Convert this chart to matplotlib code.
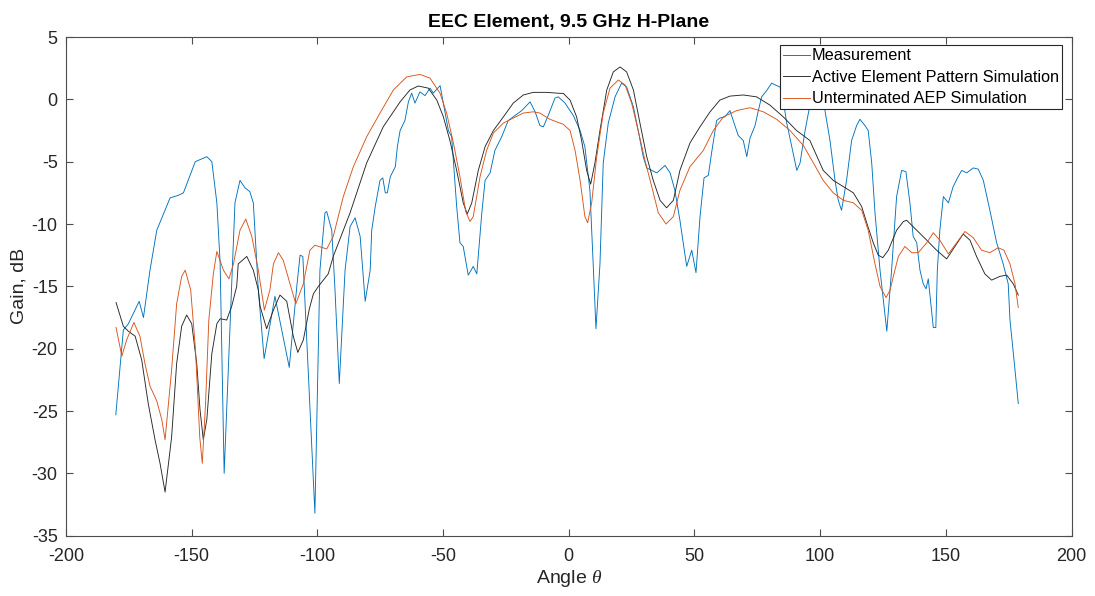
import matplotlib
matplotlib.use("Agg")
import matplotlib.pyplot as plt

plt.rcParams['font.family'] = ['Liberation Sans', 'DejaVu Sans']
plt.rcParams['mathtext.fontset'] = 'custom'
plt.rcParams['mathtext.it'] = 'Liberation Serif:italic'
plt.rcParams['axes.unicode_minus'] = False

# Measured H-plane pattern
meas_angle = [-180.2, -177.2, -175.2, -170.9, -169.2, -166.6, -163.9, -158.6, -155.3, -153.3,
              -148.6, -144.0, -142.0, -140.0, -138.7, -137.1, -132.8, -130.8, -128.8, -126.9,
              -125.5, -123.5, -121.2, -116.9, -111.2, -108.2, -106.9, -105.8, -101.0, -99.0,
              -97.0, -96.3, -94.3, -93.0, -91.3, -89.0, -87.0, -85.0, -83.0, -81.0,
              -79.0, -78.4, -77.0, -75.1, -74.0, -73.0, -72.2, -71.0, -69.0, -68.2,
              -67.1, -65.2, -63.8, -62.5, -61.2, -59.2, -57.2, -55.2, -53.9, -51.2,
              -49.9, -47.9, -46.6, -44.6, -43.3, -42.0, -40.0, -38.0, -36.6, -34.6,
              -33.3, -31.3, -29.4, -26.7, -24.1, -21.4, -18.7, -15.4, -13.4, -11.5,
              -10.1, -8.2, -5.5, -4.2, -1.5, 1.8, 4.5, 6.4, 8.4, 9.7,
              10.8, 12.4, 13.7, 15.7, 18.4, 21.0, 23.0, 25.7, 27.6, 29.6,
              31.0, 33.0, 35.0, 38.3, 40.3, 42.2, 44.2, 45.5, 46.9, 48.9,
              50.6, 52.2, 53.8, 55.5, 56.8, 58.2, 58.8, 60.1, 62.1, 64.1,
              65.4, 67.4, 69.4, 70.8, 72.1, 74.1, 75.4, 76.7, 78.7, 80.7,
              82.7, 84.0, 85.3, 86.7, 88.7, 90.7, 92.0, 94.0, 95.3, 97.3,
              99.5, 101.9, 103.9, 105.9, 107.2, 108.5, 110.5, 112.5, 114.5, 115.8,
              117.8, 119.1, 120.5, 121.8, 123.8, 126.5, 128.4, 130.4, 132.4, 134.1,
              135.7, 137.0, 138.4, 139.7, 141.0, 142.1, 143.0, 145.0, 146.0, 146.6,
              147.6, 149.0, 151.0, 152.9, 154.9, 156.3, 158.3, 160.9, 162.9, 164.9,
              167.5, 170.2, 172.8, 174.8, 175.5, 177.5, 178.8]
meas_gain = [-25.3, -18.5, -18.0, -16.2, -17.5, -13.7, -10.5, -7.9, -7.7, -7.5,
             -5.0, -4.6, -5.0, -8.3, -13.1, -30.0, -8.3, -6.5, -7.1, -7.4,
             -8.3, -15.3, -20.8, -15.8, -21.5, -15.0, -12.5, -12.6, -33.2, -13.7,
             -9.1, -9.0, -10.5, -15.3, -22.8, -13.7, -10.2, -9.5, -11.0, -16.2,
             -13.7, -10.5, -8.6, -6.5, -6.3, -7.5, -7.5, -6.2, -5.4, -3.8,
             -2.5, -1.7, -0.2, 0.5, -0.3, 0.6, 0.3, 0.9, 0.5, 1.1,
             -0.3, -2.5, -3.0, -8.6, -11.5, -11.8, -14.1, -13.4, -14.0, -9.1,
             -6.5, -5.9, -4.1, -3.0, -1.7, -1.3, -0.9, -0.2, -1.0, -2.1,
             -2.2, -1.3, 0.1, 0.2, -0.3, -1.3, -2.5, -3.8, -7.3, -13.2,
             -18.4, -13.2, -5.1, -1.9, 0.2, 1.3, 1.0, -0.6, -2.5, -4.6,
             -5.5, -5.7, -5.9, -5.3, -5.9, -7.3, -9.7, -11.5, -13.4, -12.1,
             -13.9, -9.4, -6.3, -6.1, -4.3, -2.5, -1.7, -1.5, -1.4, -0.9,
             -1.7, -2.9, -3.3, -4.6, -3.1, -2.1, -0.9, 0.2, 0.7, 1.3,
             1.1, 1.0, -0.1, -1.9, -3.8, -5.7, -5.1, -2.5, -1.1, 0.8,
             1.3, -0.9, -3.3, -6.5, -8.1, -8.9, -6.5, -3.3, -2.1, -1.6,
             -2.1, -2.5, -5.1, -9.1, -13.7, -18.6, -13.7, -7.8, -5.7, -5.8,
             -8.3, -11.0, -11.5, -13.7, -14.8, -15.2, -14.4, -18.3, -18.3, -13.7,
             -10.5, -7.8, -8.3, -7.0, -6.2, -5.7, -5.9, -5.5, -5.6, -6.5,
             -8.9, -11.5, -13.2, -14.8, -17.7, -21.7, -24.4]

# Active element pattern simulation
aep_angle = [-180.1, -177.2, -175.2, -172.5, -169.9, -167.3, -164.6, -162.6, -160.6, -158.0,
             -156.0, -154.0, -152.0, -150.0, -148.0, -146.7, -145.4, -144.0, -142.0, -140.0,
             -138.7, -136.1, -134.1, -132.1, -131.5, -128.1, -125.5, -123.5, -122.8, -120.2,
             -117.5, -114.9, -112.2, -109.6, -107.8, -105.6, -103.2, -101.6, -99.6, -95.7,
             -93.7, -87.0, -80.4, -73.8, -67.1, -63.2, -59.9, -55.9, -52.5, -49.9,
             -47.3, -44.6, -42.0, -40.4, -38.6, -36.0, -33.3, -30.0, -26.0, -22.1,
             -18.1, -14.1, -8.8, -3.5, -2.2, 0.5, 3.1, 5.1, 7.1, 8.7,
             10.4, 12.4, 15.1, 17.7, 20.4, 23.0, 25.7, 28.3, 31.0, 33.6,
             36.3, 38.9, 41.6, 44.2, 48.2, 52.2, 56.2, 60.1, 64.1, 69.4,
             74.7, 80.0, 85.3, 90.6, 95.9, 101.2, 105.2, 109.2, 113.2, 116.5,
             118.5, 121.1, 123.1, 124.9, 127.1, 130.4, 133.1, 134.4, 138.4, 142.4,
             146.3, 150.3, 153.6, 156.9, 159.6, 162.2, 165.5, 168.2, 171.5, 174.2,
             176.8, 178.8]
aep_gain = [-16.3, -18.2, -18.6, -19.0, -20.9, -24.4, -27.3, -29.2, -31.5, -27.1,
            -21.2, -18.2, -17.3, -18.0, -21.2, -24.9, -27.3, -25.7, -20.4, -18.0,
            -17.6, -17.7, -16.6, -15.0, -13.2, -12.6, -13.7, -15.3, -16.6, -18.4,
            -16.9, -15.7, -16.2, -19.0, -20.3, -19.3, -16.8, -15.6, -15.0, -14.0,
            -12.6, -9.1, -5.1, -2.2, -0.2, 0.75, 1.07, 0.9, -0.06, -1.4,
            -3.3, -5.7, -8.3, -9.2, -8.3, -5.7, -3.8, -2.5, -1.4, -0.3,
            0.35, 0.56, 0.56, 0.48, 0.48, -0.06, -1.4, -3.3, -5.7, -6.8,
            -5.1, -2.5, 0.75, 2.2, 2.6, 2.2, 0.75, -1.9, -4.6, -6.5,
            -8.1, -8.7, -8.1, -5.7, -3.5, -2.2, -1.0, -0.06, 0.26, 0.35,
            0.2, -0.46, -1.4, -2.5, -3.3, -5.7, -6.5, -7.0, -7.5, -8.6,
            -9.9, -11.5, -12.5, -12.7, -12.1, -10.5, -9.8, -9.7, -10.5, -11.3,
            -12.1, -12.8, -11.8, -10.8, -11.3, -12.6, -14.0, -14.5, -14.2, -14.1,
            -14.8, -15.7]

# Unterminated AEP simulation
unt_angle = [-180.1, -177.8, -175.9, -173.0, -170.6, -168.6, -166.6, -163.9, -161.9, -160.6,
             -158.0, -156.0, -154.0, -152.6, -150.4, -148.5, -146.8, -145.8, -144.5, -143.2,
             -141.4, -140.0, -137.4, -135.2, -133.4, -130.8, -128.5, -126.1, -123.5, -121.1,
             -118.9, -117.5, -115.5, -113.6, -110.9, -108.6, -105.6, -103.0, -101.0, -96.3,
             -93.7, -89.7, -85.7, -80.4, -75.1, -69.8, -64.5, -59.2, -55.2, -51.2,
             -48.6, -45.9, -43.3, -41.0, -39.3, -38.0, -35.3, -32.7, -30.0, -26.0,
             -22.1, -18.1, -14.1, -11.5, -7.5, -2.2, 0.5, 2.5, 4.5, 6.4,
             7.5, 9.1, 11.1, 13.7, 16.4, 19.7, 22.4, 25.0, 27.6, 30.3,
             33.0, 35.6, 38.7, 41.6, 44.2, 48.2, 53.5, 57.5, 61.5, 66.8,
             72.1, 77.4, 82.7, 88.0, 93.3, 97.3, 101.2, 105.2, 109.2, 113.2,
             116.5, 119.1, 121.8, 123.8, 125.1, 126.2, 127.8, 129.1, 131.1, 133.7,
             136.4, 139.0, 142.4, 145.0, 147.6, 151.0, 154.3, 157.6, 160.9, 164.2,
             167.5, 170.8, 173.1, 175.5, 177.5, 178.8]
unt_gain = [-18.3, -20.6, -19.3, -17.9, -19.0, -21.2, -23.0, -24.2, -25.7, -27.3,
            -21.7, -16.4, -14.2, -13.7, -15.3, -20.1, -27.1, -29.2, -24.4, -17.7,
            -14.0, -12.2, -13.7, -14.4, -13.2, -10.5, -9.6, -11.0, -13.7, -16.9,
            -15.3, -13.2, -12.3, -12.9, -14.8, -16.4, -14.8, -12.1, -11.7, -12.0,
            -11.0, -7.8, -5.4, -3.0, -1.1, 0.75, 1.8, 2.0, 1.7, 0.48,
            -1.1, -3.5, -6.2, -9.0, -9.8, -9.4, -6.2, -4.1, -2.7, -1.9,
            -1.5, -1.1, -1.0, -1.1, -1.6, -2.0, -2.5, -4.1, -6.5, -9.4,
            -9.9, -8.3, -4.6, -1.1, 0.9, 1.55, 1.15, -0.3, -2.5, -4.9,
            -7.0, -9.1, -10.0, -9.4, -7.3, -5.4, -4.1, -2.5, -1.4, -0.9,
            -0.67, -1.0, -1.6, -2.5, -3.7, -5.1, -6.5, -7.5, -8.1, -8.3,
            -8.9, -10.5, -13.2, -15.0, -15.5, -15.9, -15.3, -14.2, -12.6, -11.8,
            -12.3, -12.3, -11.5, -10.7, -11.3, -12.4, -11.5, -10.6, -11.1, -12.1,
            -12.3, -11.9, -12.1, -13.2, -14.8, -16.7]

series_names = ['Measurement', 'Active Element Pattern Simulation', 'Unterminated AEP Simulation']
series_colors = ['#0072BD', '#262626', '#D95319']

fig = plt.figure(figsize=(10.95, 5.96), dpi=100)
ax = fig.add_axes([0.0603, 0.1012, 0.9183, 0.8367])

ax.plot(meas_angle, meas_gain, color=series_colors[0], lw=0.65, label=series_names[0])
ax.plot(aep_angle, aep_gain, color=series_colors[1], lw=0.65, label=series_names[1])
ax.plot(unt_angle, unt_gain, color=series_colors[2], lw=0.65, label=series_names[2])

ax.set_xlim(-200, 200)
ax.set_ylim(-35, 5)
ax.set_xticks(range(-200, 201, 50))
ax.set_yticks(range(-35, 6, 5))

axis_color = '#262626'
for sp in ax.spines.values():
    sp.set_color('#4d4d4d')
    sp.set_linewidth(0.8)
ax.tick_params(direction='in', top=True, right=True, length=5, width=0.8,
               color='#4d4d4d', labelcolor=axis_color, labelsize=13)
ax.tick_params(axis='x', pad=9)
ax.tick_params(axis='y', pad=6)

ax.set_title('EEC Element, 9.5 GHz H-Plane', fontsize=14, fontweight='bold',
             color='black', pad=7)
ax.set_xlabel(r'Angle $\theta$', fontsize=14, color=axis_color, labelpad=2)
ax.set_ylabel('Gain, dB', fontsize=14, color=axis_color, labelpad=3)

leg = ax.legend(loc='upper right', bbox_to_anchor=(0.9905, 0.984), fontsize=11.7,
                frameon=True, fancybox=False, shadow=False, framealpha=1,
                handlelength=1.65, handletextpad=0.1, borderpad=0.2,
                labelspacing=0.4, borderaxespad=0.0)
leg.get_frame().set_edgecolor('#262626')
leg.get_frame().set_linewidth(0.8)
for t in leg.get_texts():
    t.set_color('black')

fig.savefig('out.png', dpi=100, facecolor='white')
